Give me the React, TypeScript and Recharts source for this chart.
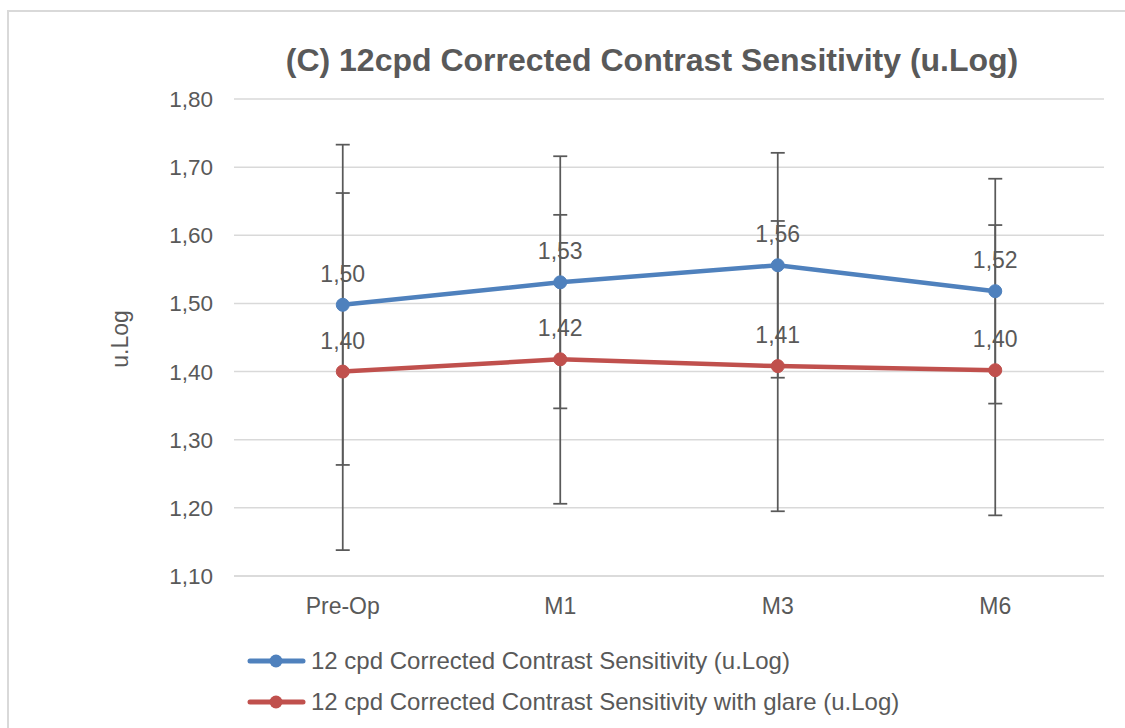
import { LineChart, Line, XAxis, YAxis, CartesianGrid, ErrorBar, LabelList, Legend } from "recharts";

const categories = ["Pre-Op", "M1", "M3", "M6"];
const sensitivity = [1.498, 1.531, 1.556, 1.518];
const sensitivityError = [0.235, 0.185, 0.165, 0.165];
const glare = [1.4, 1.418, 1.408, 1.402];
const glareError = [0.262, 0.212, 0.213, 0.213];
const yTicks = [1.1, 1.2, 1.3, 1.4, 1.5, 1.6, 1.7, 1.8];

const series = [
  {
    key: "sensitivity",
    errKey: "sensitivityError",
    name: "12 cpd Corrected Contrast Sensitivity (u.Log)",
    color: "#4F81BD",
  },
  {
    key: "glare",
    errKey: "glareError",
    name: "12 cpd Corrected Contrast Sensitivity with glare (u.Log)",
    color: "#C0504D",
  },
];

const data = categories.map((label, i) => ({
  label,
  sensitivity: sensitivity[i],
  sensitivityError: sensitivityError[i],
  glare: glare[i],
  glareError: glareError[i],
}));

const FONT = "'Liberation Sans', Arial, sans-serif";
const TEXT = "#595959";
const fmt = (v: unknown) => Number(v).toFixed(2).replace(".", ",");

function LegendBox() {
  return (
    <div style={{ fontFamily: FONT, fontSize: 24, color: TEXT }}>
      {series.map((s) => (
        <div key={s.key} style={{ display: "flex", alignItems: "center", height: 41 }}>
          <svg width={62} height={20} style={{ marginRight: 2 }}>
            <line x1={3} y1={10} x2={56} y2={10} stroke={s.color} strokeWidth={5} strokeLinecap="round" />
            <circle cx={29} cy={10} r={6.5} fill={s.color} />
          </svg>
          <span>{s.name}</span>
        </div>
      ))}
    </div>
  );
}

export default function App() {
  return (
    <div style={{ position: "fixed", left: 0, top: 0, width: 1125, height: 728, background: "#fff", overflow: "hidden" }}>
      <div
        style={{
          position: "absolute",
          left: 7,
          top: 10,
          width: 1300,
          height: 900,
          border: "2px solid #d9d9d9",
          boxSizing: "border-box",
        }}
      />
      <div
        style={{
          position: "absolute",
          left: 0,
          top: 42,
          width: 1304,
          textAlign: "center",
          fontFamily: FONT,
          fontWeight: "bold",
          fontSize: 32,
          color: TEXT,
          lineHeight: "36px",
        }}
      >
        (C) 12cpd Corrected Contrast Sensitivity (u.Log)
      </div>
      <div style={{ position: "absolute", left: 0, top: 0 }}>
        <LineChart width={1125} height={728} data={data} margin={{ top: 99, right: 21, bottom: 122, left: 0 }}>
          <CartesianGrid vertical={false} stroke="#d9d9d9" strokeWidth={1.5} />
          <XAxis
            dataKey="label"
            scale="band"
            height={30}
            axisLine={{ stroke: "#d9d9d9", strokeWidth: 1.5 }}
            tickLine={false}
            tickSize={0}
            tickMargin={22}
            tick={{ fill: TEXT, fontSize: 23, fontFamily: FONT }}
          />
          <YAxis
            width={234}
            domain={[1.1, 1.8]}
            ticks={yTicks}
            axisLine={false}
            tickLine={false}
            tickSize={0}
            tickMargin={21}
            tickFormatter={fmt}
            tick={{ fill: TEXT, fontSize: 22.5, fontFamily: FONT }}
            label={{
              content: () => (
                <text
                  x={128}
                  y={339}
                  transform="rotate(-90 128 339)"
                  textAnchor="middle"
                  fill={TEXT}
                  fontSize={23}
                  fontFamily={FONT}
                >
                  u.Log
                </text>
              ),
            }}
          />
          <Legend
            layout="vertical"
            align="center"
            verticalAlign="middle"
            wrapperStyle={{ left: 247, top: 640, width: 800 }}
            content={() => <LegendBox />}
          />
          {series.map((s) => (
            <Line
              key={s.key}
              dataKey={s.key}
              name={s.name}
              stroke={s.color}
              strokeWidth={4.5}
              dot={{ r: 6.5, fill: s.color, stroke: s.color, strokeWidth: 1 }}
              activeDot={false}
              isAnimationActive={false}
            >
              <ErrorBar dataKey={s.errKey} width={7} stroke="#595959" strokeWidth={1.75} isAnimationActive={false} />
              <LabelList
                dataKey={s.key}
                position="top"
                offset={23}
                formatter={fmt}
                fill={TEXT}
                fontSize={23}
                fontFamily={FONT}
              />
            </Line>
          ))}
        </LineChart>
      </div>
    </div>
  );
}
